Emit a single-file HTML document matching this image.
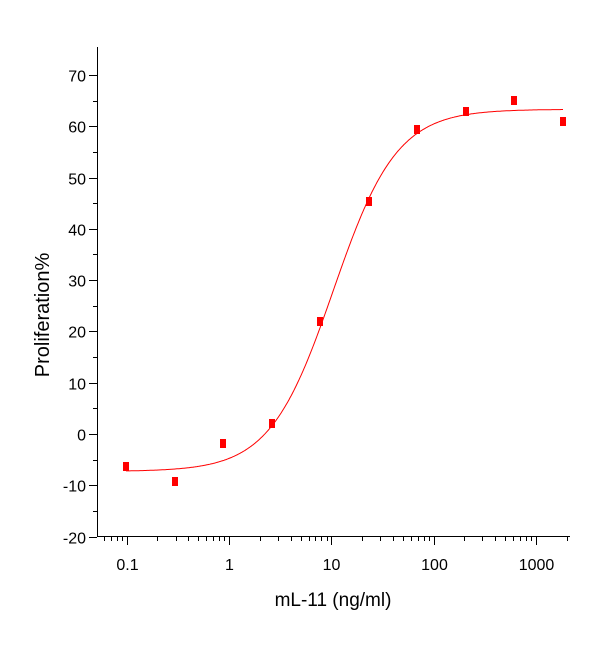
<!DOCTYPE html><html><head><meta charset="utf-8"><style>body{margin:0;background:#fff}svg{display:block}text{font-family:"Liberation Sans",sans-serif}</style></head><body>
<svg id="s" width="604" height="662" xmlns="http://www.w3.org/2000/svg">
<g stroke="#000" stroke-width="1" id="ax"><line x1="97.5" y1="47" x2="97.5" y2="537"/><line x1="97" y1="536.5" x2="570" y2="536.5"/></g>
<g id="lab" font-size="16" fill="#000"></g>
<text x="49" y="315" font-size="20" text-anchor="middle" transform="rotate(-90 49 315)">Proliferation%</text>
<text x="333" y="606" font-size="19" text-anchor="middle">mL-11 (ng/ml)</text>
<path id="c" fill="none" stroke="#f00" stroke-width="1"/>
<g id="pts" fill="#f00"></g>
</svg>
<script>
var ns="http://www.w3.org/2000/svg",ax=document.getElementById('ax'),lab=document.getElementById('lab');
function Y(v){return 434-v*5.13}function X(v){return 126.7+(Math.log10(v)+1)*102.3}
function ln(x1,y1,x2,y2){var l=document.createElementNS(ns,'line');l.setAttribute('x1',x1);l.setAttribute('y1',y1);l.setAttribute('x2',x2);l.setAttribute('y2',y2);ax.appendChild(l)}
function tx(x,y,t,a){var e=document.createElementNS(ns,'text');e.setAttribute('x',x);e.setAttribute('y',y);e.setAttribute('text-anchor',a);e.textContent=t;lab.appendChild(e)}
for(var v=-20;v<=70;v+=5){var y=Math.round(Y(v))+.5;ln(v%10?93:89,y,97,y);if(v%10==0)tx(86,y+6,v,'end')}
var dn=["0.1","1","10","100","1000"];
for(var d=-2;d<=3;d++)for(var m=1;m<10;m++){var val=m*Math.pow(10,d),x=X(val);if(x<98||x>570)continue;x=Math.round(x)+.5;ln(x,537,x,m==1?545:541);if(m==1)tx(x,570,dn[d+1],'middle')}
var p="";for(var x=126;x<=563;x++){var lv=(x-126.7)/102.3-1,v=-7.3+70.6/(1+Math.pow(10,1.4*(1.02-lv)));p+=(x==126?"M":"L")+x+","+Y(v).toFixed(1)}
document.getElementById('c').setAttribute('d',p);
var P=[[126,466],[175,481],[223,443],[272,423],[320,321],[369,201],[417,129],[466,111],[514,100],[563,121]],g=document.getElementById('pts');
P.forEach(function(q){var r=document.createElementNS(ns,'rect');r.setAttribute('x',q[0]-3);r.setAttribute('y',q[1]-4);r.setAttribute('width',6);r.setAttribute('height',9);g.appendChild(r)});
</script></body></html>
